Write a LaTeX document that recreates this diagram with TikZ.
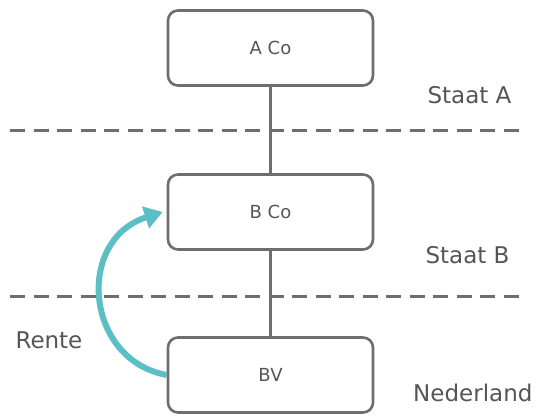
\documentclass[tikz,border=0pt]{standalone}
\usepackage{fontspec}
\setmainfont{DejaVu Sans}
\usetikzlibrary{arrows.meta}
\definecolor{linegray}{HTML}{6E6E6E}
\definecolor{textgray}{HTML}{555555}
\definecolor{teal}{HTML}{5CBFC6}
\tikzset{
  entity/.style={draw=linegray, line width=2.6pt, rounded corners=10pt, minimum width=205pt, minimum height=75pt, inner sep=0pt, text=textgray, font=\fontsize{18}{20}\selectfont},
  link/.style={draw=linegray, line width=2.6pt},
  border/.style={draw=linegray, line width=3pt, dash pattern=on 15pt off 8.5pt},
  region/.style={text=textgray, font=\fontsize{23}{26}\selectfont, anchor=base east},
  flow/.style={draw=teal, line width=6pt, -{Triangle[length=18pt,width=22pt]}}
}
\begin{document}
\begin{tikzpicture}[x=1pt,y=-1pt]
\useasboundingbox (0,0) rectangle (538,417);
\node[entity] (A) at (270.5,48) {A Co};
\node[entity] (B) at (270.5,212) {B Co};
\node[entity] (C) at (270.5,375) {BV};
\draw[link] (A) -- (B);
\draw[link] (B) -- (C);
\coordinate (d1l) at (10,131);
\coordinate (d1r) at (519,131);
\coordinate (d2l) at (10,296);
\coordinate (d2r) at (519,296);
\draw[border] (d1l) -- (d1r);
\draw[border] (d2l) -- (d2r);
\node[region] (sa) at (515,104) {Staat A};
\node[region] (sb) at (513,263) {Staat B};
\node[region] (nl) at (536,401) {Nederland};
\node[region, anchor=base west] (rt) at (12,348) {Rente};
\draw[flow] (C.west) .. controls (85,360) and (75,240) .. ([xshift=-4pt,yshift=0pt]B.west);
\end{tikzpicture}
\end{document}
